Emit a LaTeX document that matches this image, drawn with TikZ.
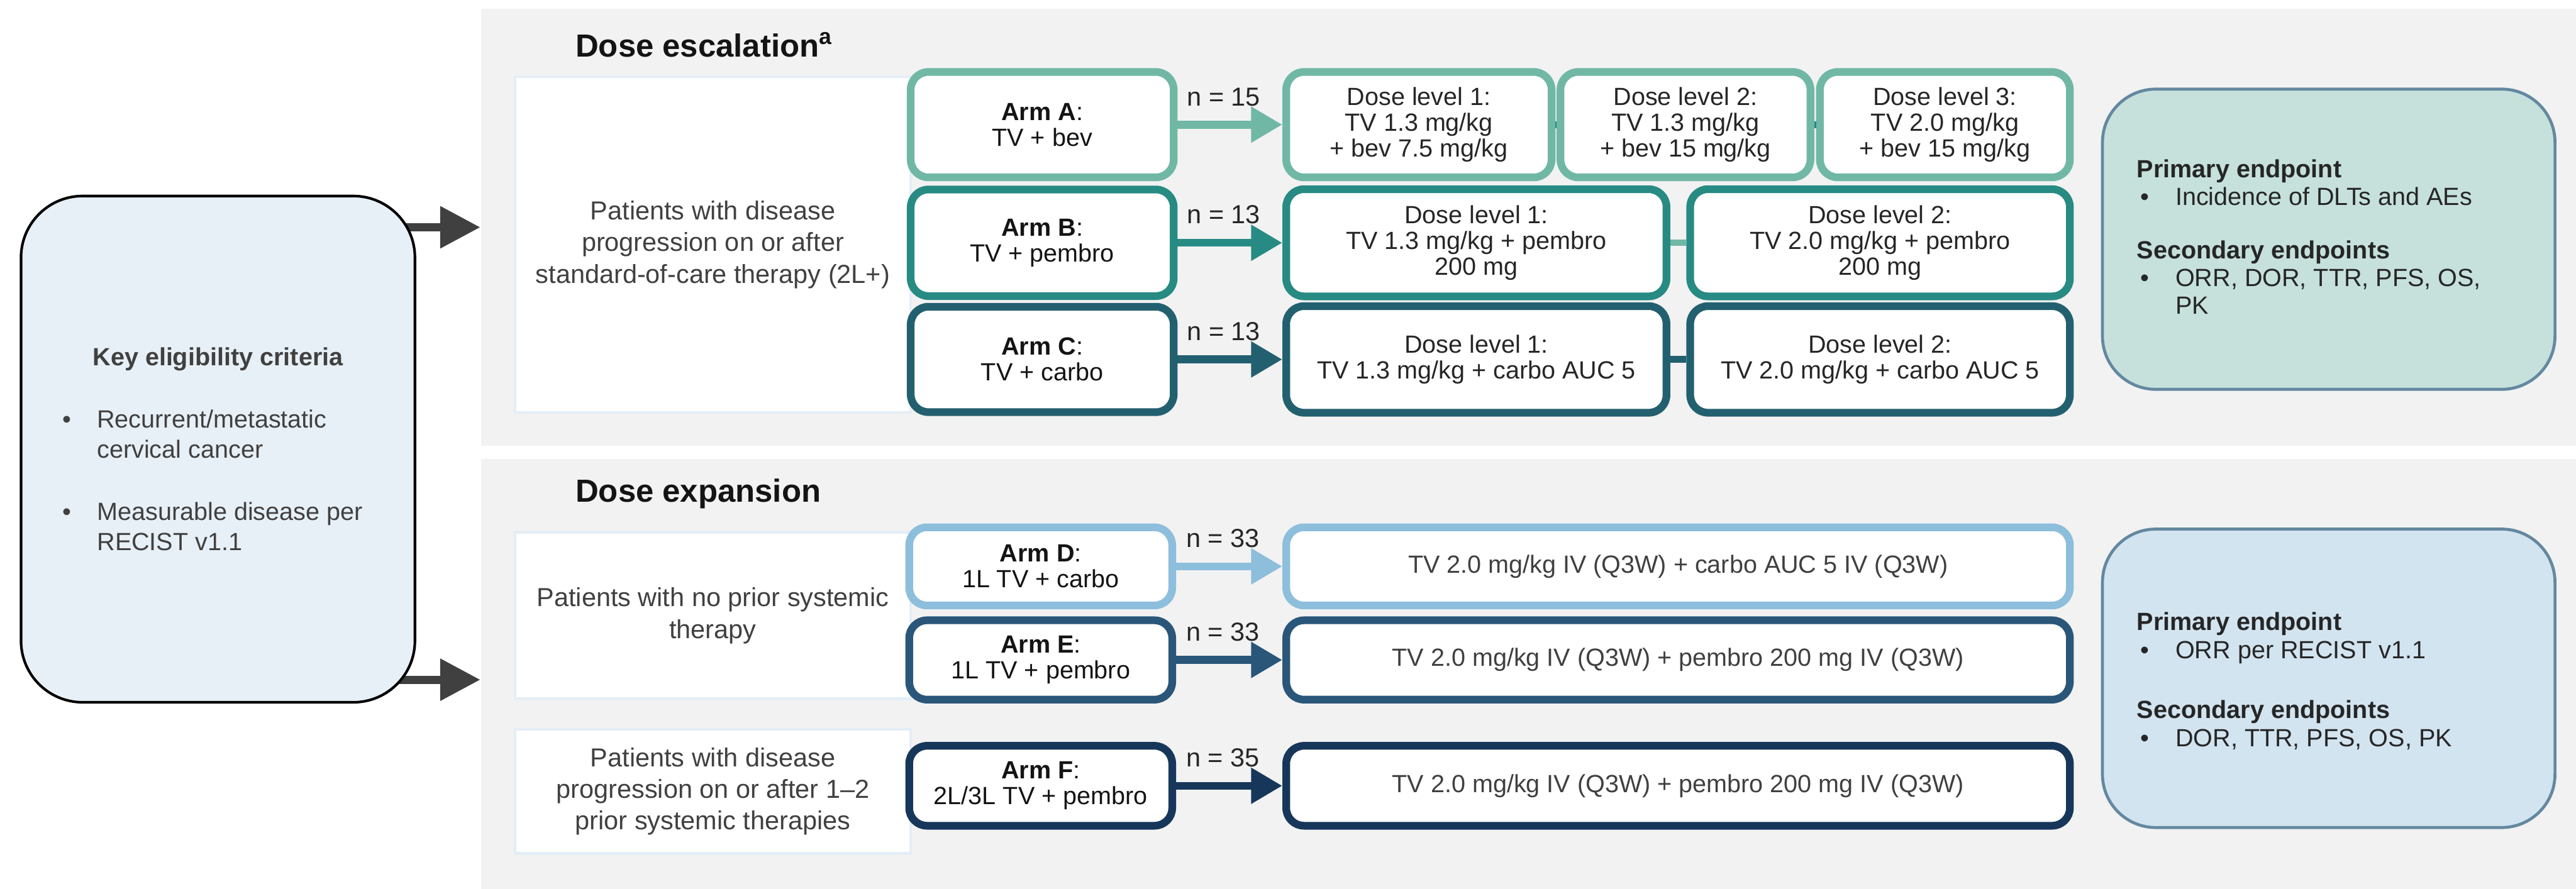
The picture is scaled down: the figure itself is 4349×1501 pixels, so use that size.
\documentclass[tikz,border=0pt]{standalone}
\usepackage{fontspec}
\setmainfont{Liberation Sans}
\usepackage{tikz}
\usepackage{color}
\usetikzlibrary{arrows.meta,positioning,backgrounds}

\definecolor{armAcol}{HTML}{70B8A5}
\definecolor{armBcol}{HTML}{278B83}
\definecolor{armCcol}{HTML}{23606F}
\definecolor{armDcol}{HTML}{8DBEDC}
\definecolor{armEcol}{HTML}{2A5679}
\definecolor{armFcol}{HTML}{17375A}
\definecolor{panelgray}{HTML}{F2F2F2}
\definecolor{patline}{HTML}{E4EEF6}
\definecolor{keyfill}{HTML}{E8F0F7}
\definecolor{epescfill}{HTML}{C6E1DC}
\definecolor{epexpfill}{HTML}{D2E4F0}
\definecolor{epline}{HTML}{6488A0}
\definecolor{arrowgray}{HTML}{404040}
\definecolor{txtgray}{HTML}{404040}
\definecolor{txtdark}{HTML}{262626}
\definecolor{txtblack}{HTML}{141414}

\newcommand{\epbul}{\makebox[16.25pt][l]{\hspace{1.5pt}\textbullet}}
\newcommand{\kbul}[1]{\makebox[131pt][l]{\makebox[14.5pt][l]{\textbullet}#1}}
\newcommand{\kcont}[1]{\makebox[131pt][l]{\hspace{14.5pt}#1}}

\begin{document}
\begin{tikzpicture}[x=0.25pt,y=-0.25pt,
	panel/.style={fill=panelgray,anchor=north west,minimum width=884.5pt},
	title/.style={anchor=base west,text=txtblack,font=\fontsize{13.5}{16}\selectfont\bfseries},
	patbox/.style={draw=patline,line width=1.25pt,fill=white,minimum width=167pt,align=center,text=txtgray,font=\fontsize{11}{13.4}\selectfont},
	keybox/.style={draw=black,line width=1.1pt,fill=keyfill,rounded corners=26pt,minimum width=166.25pt,minimum height=213.75pt,align=center,text=txtgray,font=\fontsize{10.5}{12.75}\selectfont},
	armbox/.style={draw=#1,line width=3.25pt,fill=white,rounded corners=7.5pt,minimum width=111pt,align=center,text=txtblack,font=\fontsize{10.5}{10.8}\selectfont},
	dosebox/.style={draw=#1,line width=3.25pt,fill=white,rounded corners=7.5pt,align=center,text=txtdark,font=\fontsize{10.5}{10.8}\selectfont},
	armarrow/.style={draw=#1,line width=3.35pt,-{Triangle[length=13.2pt,width=14.4pt]}},
	nlabel/.style={pos=0.44,above=6.25pt,text=txtdark,font=\fontsize{11}{13}\selectfont},
	bigarrow/.style={draw=arrowgray,line width=3.5pt,-{Triangle[length=17pt,width=17pt]}},
	epbox/.style={draw=epline,line width=1.25pt,rounded corners=22.5pt,minimum width=191pt},
	eptext/.style={anchor=west,align=left,text=txtdark,font=\fontsize{10.5}{11.75}\selectfont}]
	\tikzstyle{every node}+=[inner sep=0pt]
	\useasboundingbox (0,0) rectangle (4349,1501);

	\begin{scope}[on background layer]
		\node[panel,minimum height=184.5pt] (escPanel) at (811,14) {};
		\node[panel,minimum height=181.75pt] (expPanel) at (811,774) {};
	\end{scope}

	\node[title] (escTitle) at (971,96) {Dose escalation\textsuperscript{a}};
	\node[title] (expTitle) at (971,848) {Dose expansion};

	\node[keybox] (key) at (368,758.5) {\textbf{Key eligibility criteria}\\[13.5pt]
		\kbul{Recurrent/metastatic}\\
		\kcont{cervical cancer}\\[13.75pt]
		\kbul{Measurable disease per}\\
		\kcont{RECIST v1.1}};

	\node[patbox,minimum height=141.75pt] (patEsc) at (1203.5,413) {Patients with disease\\progression on or after\\standard-of-care therapy (2L+)};
	\node[patbox,minimum height=70.5pt] (patExp1) at (1203.5,1039.5) {Patients with no prior systemic\\therapy};
	\node[patbox,minimum height=52.5pt] (patExp2) at (1203.5,1336.5) {Patients with disease\\progression on or after 1\textendash 2\\prior systemic therapies};

	\node[armbox=armAcol,minimum height=44.5pt] (armA) at (1759.5,210.5) {\textbf{Arm A}:\\TV + bev};
	\node[armbox=armBcol,minimum height=45pt] (armB) at (1759.5,410) {\textbf{Arm B}:\\TV + pembro};
	\node[armbox=armCcol,minimum height=44.5pt] (armC) at (1759.5,607) {\textbf{Arm C}:\\TV + carbo};
	\node[armbox=armDcol,minimum height=33pt] (armD) at (1757,956.5) {\textbf{Arm D}:\\1L TV + carbo};
	\node[armbox=armEcol,minimum height=33.5pt] (armE) at (1757,1114.5) {\textbf{Arm E}:\\1L TV + pembro};
	\node[armbox=armFcol,minimum height=33.75pt] (armF) at (1757,1327) {\textbf{Arm F}:\\2L/3L TV + pembro};

	\node[dosebox=armAcol,minimum width=112pt,minimum height=44.5pt] (escA1) at (2395.5,210.5) {Dose level 1:\\TV 1.3 mg/kg\\+ bev 7.5 mg/kg};
	\node[dosebox=armAcol,minimum width=105.5pt,minimum height=44.5pt,right=0.5pt of escA1] (escA2) {Dose level 2:\\TV 1.3 mg/kg\\+ bev 15 mg/kg};
	\node[dosebox=armAcol,minimum width=105.5pt,minimum height=44.5pt,right=0.75pt of escA2] (escA3) {Dose level 3:\\TV 2.0 mg/kg\\+ bev 15 mg/kg};
	\node[dosebox=armBcol,minimum width=160.5pt,minimum height=45.25pt] (escB1) at (2492.5,410) {Dose level 1:\\TV 1.3 mg/kg + pembro\\200 mg};
	\node[dosebox=armBcol,minimum width=160.25pt,minimum height=45.25pt,right=6.75pt of escB1] (escB2) {Dose level 2:\\TV 2.0 mg/kg + pembro\\200 mg};
	\node[dosebox=armCcol,minimum width=160.5pt,minimum height=45pt] (escC1) at (2492.5,607) {Dose level 1:\\TV 1.3 mg/kg + carbo AUC 5};
	\node[dosebox=armCcol,minimum width=160.25pt,minimum height=45pt,right=6.75pt of escC1] (escC2) {Dose level 2:\\TV 2.0 mg/kg + carbo AUC 5};
	\node[dosebox=armDcol,text=txtgray,minimum width=330.75pt,minimum height=33pt] (expD) at (2833,956.5) {TV 2.0 mg/kg IV (Q3W) + carbo AUC 5 IV (Q3W)};
	\node[dosebox=armEcol,text=txtgray,minimum width=330.75pt,minimum height=33.5pt] (expE) at (2833,1114.5) {TV 2.0 mg/kg IV (Q3W) + pembro 200 mg IV (Q3W)};
	\node[dosebox=armFcol,text=txtgray,minimum width=330.75pt,minimum height=33.75pt] (expF) at (2833,1327) {TV 2.0 mg/kg IV (Q3W) + pembro 200 mg IV (Q3W)};

	\node[epbox,fill=epescfill,minimum height=126.75pt] (epEsc) at (3931.5,404) {};
	\node[epbox,fill=epexpfill,minimum height=126pt] (epExp) at (3931.5,1145.5) {};
	\node[eptext] (epEscTxt) at (3607,400) {\textbf{Primary endpoint}\\
		\epbul Incidence of DLTs and AEs\\[10.75pt]
		\textbf{Secondary endpoints}\\
		\epbul ORR, DOR, TTR, PFS, OS,\\
		\hspace*{16.25pt}PK};
	\node[eptext,font=\fontsize{10.5}{12}\selectfont] (epExpTxt) at (3607,1150) {\textbf{Primary endpoint}\\
		\epbul ORR per RECIST v1.1\\[13pt]
		\textbf{Secondary endpoints}\\
		\epbul DOR, TTR, PFS, OS, PK};

	\coordinate (expIn) at ([yshift=-2.4pt]expPanel.west);
	\begin{scope}[on background layer]
		\draw[bigarrow] (key.center |- escPanel.west) -- (escPanel.west);
		\draw[bigarrow] (key.center |- expIn) -- (expIn);
	\end{scope}

	\draw[armarrow=armAcol] (armA) -- node[nlabel] {n = 15} (escA1);
	\draw[armarrow=armBcol] (armB) -- node[nlabel] {n = 13} (escB1);
	\draw[armarrow=armCcol] (armC) -- node[nlabel] {n = 13} (escC1);
	\draw[armarrow=armDcol] (armD) -- node[nlabel] {n = 33} (expD);
	\draw[armarrow=armEcol] (armE) -- node[nlabel] {n = 33} (expE);
	\draw[armarrow=armFcol] (armF) -- node[nlabel] {n = 35} (expF);

	\draw[armBcol,line width=3pt] (escA1) -- (escA2);
	\draw[armBcol,line width=3pt] (escA2) -- (escA3);
	\draw[armAcol,line width=2.5pt] (escB1) -- (escB2);
	\draw[armCcol,line width=3pt] (escC1) -- (escC2);
\end{tikzpicture}
\end{document}
